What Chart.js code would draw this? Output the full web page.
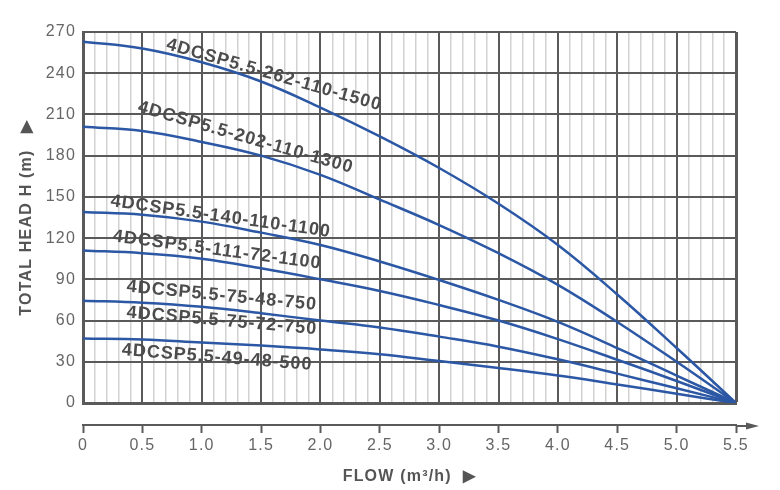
<!DOCTYPE html>
<html>
<head>
<meta charset="utf-8">
<script src="https://cdn.jsdelivr.net/npm/chart.js@4.4.0/dist/chart.umd.min.js"></script>
<style>
  html, body { margin: 0; padding: 0; background: #fff; }
  canvas { display: block; }
</style>
</head>
<body>
<canvas id="pump-curves" width="780" height="490"></canvas>
<script>
// flow in m3/h, head in m
var flow = [0, 0.5, 1.0, 1.5, 2.0, 2.5, 3.0, 3.5, 4.0, 4.5, 5.0, 5.5];
var head262 = [263, 258, 248, 234, 215, 194, 171, 145, 115, 79, 40, 0];
var head202 = [201, 198, 190, 180, 166, 148, 129.5, 109, 86, 59, 30, 0];
var head140 = [139, 137, 132, 124, 115, 103, 89.5, 75, 59, 40, 20, 0];
var head111 = [111, 109, 105, 98, 90, 81.5, 71.3, 60, 46.5, 31.5, 16, 0];
var head75 = [74.5, 73, 70, 65.3, 60, 55, 48.3, 41, 31.8, 21.4, 10.7, 0];
var head49 = [47, 46.3, 44, 41.8, 39, 35.5, 30.5, 25.5, 20, 13.5, 6.7, 0];

var models = ['4DCSP5.5-262-110-1500', '4DCSP5.5-202-110-1300', '4DCSP5.5-140-110-1100',
  '4DCSP5.5-111-72-1100', '4DCSP5.5-75-48-750', '4DCSP5.5-75-72-750', '4DCSP5.5-49-48-500'];

// where each model name sits (data units) and its tilt in degrees
var labelSpots = [
  { x: 1.61, y: 238.7, angle: 16 },
  { x: 1.37, y: 193.2, angle: 16 },
  { x: 1.16, y: 135.7, angle: 8 },
  { x: 1.13, y: 111.3, angle: 7.5 },
  { x: 1.17, y: 78.0, angle: 5.5 },
  { x: 1.17, y: 59.8, angle: 5 },
  { x: 1.13, y: 33.1, angle: 4.5 }
];

var dark = '#5a5a5a';
var blue = '#2b57a5';

Chart.defaults.font.family = '"Liberation Sans", Arial, sans-serif';

function isMajor(v) {
  return Math.abs(v * 2 - Math.round(v * 2)) < 1e-6;
}

var spacingPlugin = {
  id: 'spacing',
  beforeLayout: function(chart) { chart.ctx.letterSpacing = '1.2px'; },
  beforeDraw: function(chart) { chart.ctx.letterSpacing = '1.2px'; }
};

var curveLabelPlugin = {
  id: 'curveLabels',
  afterDatasetsDraw: function(chart) {
    var ctx = chart.ctx, xs = chart.scales.x, ys = chart.scales.y;
    ctx.save();
    ctx.font = 'bold 18px "Liberation Sans", Arial, sans-serif';
    ctx.letterSpacing = '1px';
    ctx.fillStyle = '#4c4c4c';
    ctx.textAlign = 'center';
    ctx.textBaseline = 'middle';
    models.forEach(function(name, i) {
      var p = labelSpots[i];
      ctx.save();
      ctx.translate(xs.getPixelForValue(p.x), ys.getPixelForValue(p.y));
      ctx.rotate(p.angle * Math.PI / 180);
      ctx.fillText(name, 0, 0);
      ctx.restore();
    });
    ctx.restore();
  }
};

var axisArrowPlugin = {
  id: 'axisArrow',
  afterDraw: function(chart) {
    var s = chart.scales.x2, ctx = chart.ctx;
    var y = s.top + 1;
    ctx.save();
    ctx.strokeStyle = dark;
    ctx.lineWidth = 2;
    ctx.beginPath();
    ctx.moveTo(s.right, y);
    ctx.lineTo(s.right + 14, y);
    ctx.stroke();
    ctx.fillStyle = dark;
    ctx.beginPath();
    ctx.moveTo(s.right + 23, y);
    ctx.lineTo(s.right + 10, y - 3.5);
    ctx.lineTo(s.right + 10, y + 3.5);
    ctx.closePath();
    ctx.fill();
    ctx.restore();
  }
};

var series = [head262, head202, head140, head111, head75, head49];

var chart = new Chart(document.getElementById('pump-curves').getContext('2d'), {
  type: 'line',
  data: {
    datasets: series.map(function(h) {
      return {
        data: flow.map(function(f, i) { return { x: f, y: h[i] }; }),
        borderColor: blue,
        borderWidth: 2.5,
        pointRadius: 0,
        fill: false,
        tension: 0.4
      };
    })
  },
  options: {
    responsive: false,
    animation: false,
    layout: { padding: { top: 32, right: 44, bottom: 0, left: 0 } },
    plugins: { legend: { display: false }, tooltip: { enabled: false } },
    scales: {
      x: {
        type: 'linear', min: 0, max: 5.5, weight: 0,
        afterFit: function(s) { s.height = 22; },
        ticks: { display: false, stepSize: 0.1, autoSkip: false },
        grid: {
          drawTicks: false,
          color: function(c) { return isMajor(c.tick.value) ? dark : '#d2d2d2'; },
          lineWidth: function(c) {
            if (c.tick.value >= 5.5) return 3;
            return isMajor(c.tick.value) ? 2 : 1.5;
          }
        },
        border: { display: true, color: dark, width: 3 }
      },
      x2: {
        type: 'linear', position: 'bottom', min: 0, max: 5.5, weight: 1,
        afterFit: function(s) { s.height = 65; },
        ticks: {
          stepSize: 0.5, autoSkip: false, maxRotation: 0, color: '#666',
          font: { size: 16 }, padding: 3,
          callback: function(v) { return v === 0 ? '0' : v.toFixed(1); }
        },
        grid: { drawOnChartArea: false, drawTicks: true, tickLength: 8, tickColor: dark, tickWidth: 2 },
        border: { display: true, color: dark, width: 2 },
        title: {
          display: true, text: 'FLOW (m³/h)  ▶', color: '#555',
          font: { size: 16, weight: 'bold' }, padding: { top: 0, bottom: 4 }
        }
      },
      y: {
        min: 0, max: 270,
        afterFit: function(s) { s.width = 83; },
        ticks: { stepSize: 30, color: '#666', font: { size: 16 }, padding: 7 },
        grid: { drawTicks: false, color: dark, lineWidth: 2 },
        border: { display: true, color: dark, width: 3 },
        title: {
          display: true, text: 'TOTAL HEAD H (m)   ▶', color: '#555',
          font: { size: 16, weight: 'bold' }, padding: { top: 17, bottom: 0 }
        }
      }
    }
  },
  plugins: [spacingPlugin, curveLabelPlugin, axisArrowPlugin]
});
</script>
</body>
</html>
